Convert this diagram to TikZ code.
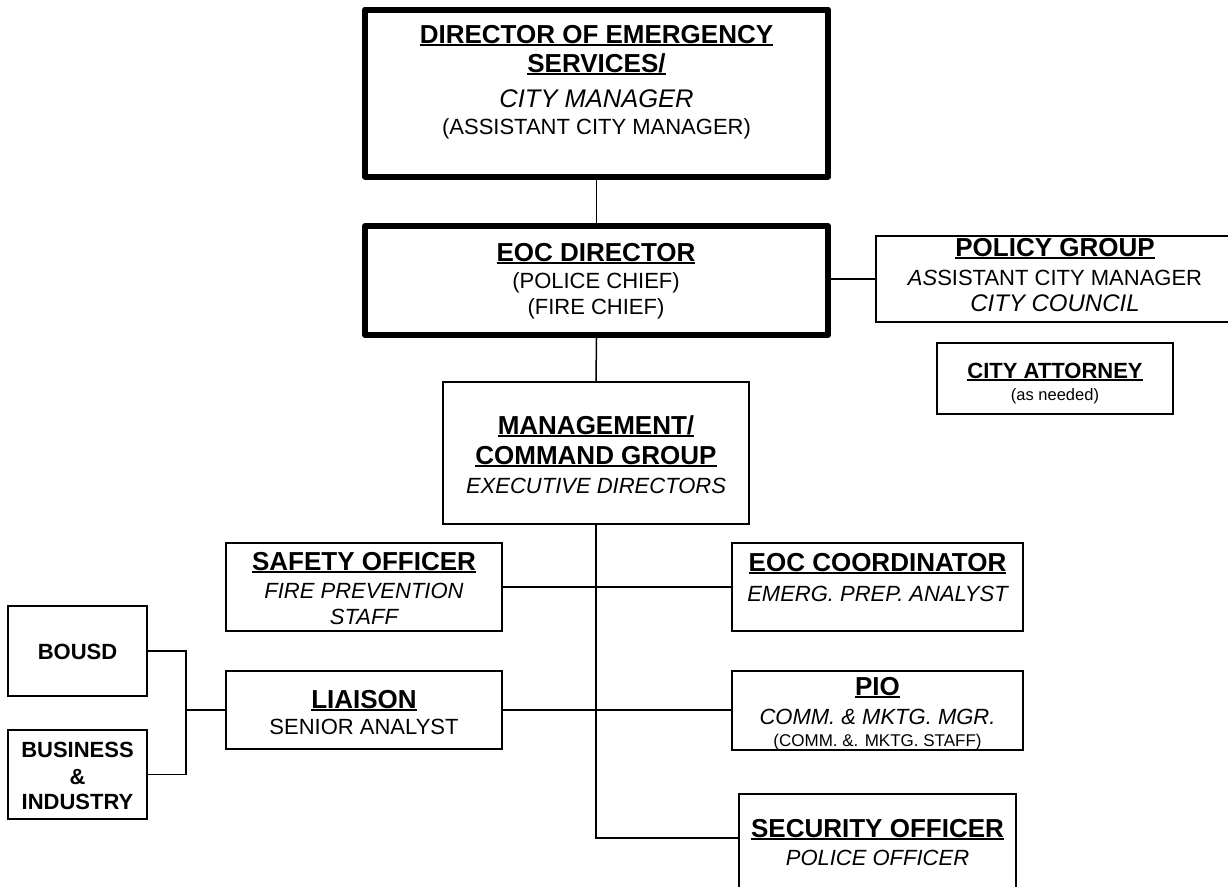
\documentclass[tikz,border=0pt]{standalone}
\usepackage{fontspec}
\setmainfont{Liberation Sans}
\newcommand\hul[1]{\setbox0=\hbox{#1}\rlap{\rule[-2.6pt]{\wd0}{2pt}}\box0}
\tikzset{
  thickbox/.style={draw, line width=6pt, line join=round, inner sep=0pt},
  thinbox/.style={draw, line width=1.8pt, inner sep=0pt},
  conn/.style={line width=1.5pt},
  hd/.style={anchor=base, inner sep=0pt, font=\fontsize{26}{30}\selectfont\bfseries},
  hds/.style={anchor=base, inner sep=0pt, font=\fontsize{22}{26}\selectfont\bfseries},
  it/.style={anchor=base, inner sep=0pt, font=\fontsize{22}{26}\selectfont\itshape},
  itb/.style={anchor=base, inner sep=0pt, font=\fontsize{25.5}{30}\selectfont\itshape},
  rg/.style={anchor=base, inner sep=0pt, font=\fontsize{22}{26}\selectfont},
  sm/.style={anchor=base, inner sep=0pt, font=\fontsize{17}{20}\selectfont},
}
\begin{document}
\begin{tikzpicture}[x=1pt, y=-1pt]
\useasboundingbox (0,0) rectangle (1228,886);
\clip (0,0) rectangle (1228,886);
% boxes
\node[thickbox, minimum width=463pt, minimum height=167pt] (top) at (596.5,93) {};
\node[thickbox, minimum width=463pt, minimum height=109pt] (eocdir) at (596.5,280.5) {};
\node[thinbox, minimum width=358pt, minimum height=86pt] (policy) at (1055,279) {};
\node[thinbox, minimum width=236pt, minimum height=71pt] (attorney) at (1055,378.5) {};
\node[thinbox, minimum width=306pt, minimum height=142pt] (mgmt) at (596,453) {};
\node[thinbox, minimum width=276pt, minimum height=88pt] (safety) at (364,587) {};
\node[thinbox, minimum width=276pt, minimum height=78pt] (liaison) at (364,710) {};
\node[thinbox, minimum width=291pt, minimum height=88pt] (coord) at (877.5,587) {};
\node[thinbox, minimum width=291pt, minimum height=79pt] (pio) at (877.5,710.5) {};
\node[thinbox, minimum width=277pt, minimum height=116pt] (security) at (877.5,852) {};
\node[thinbox, minimum width=139pt, minimum height=90pt] (bousd) at (77.5,651) {};
\node[thinbox, minimum width=139pt, minimum height=89pt] (business) at (77.5,774.5) {};
% texts
\node[hd] (t1) at (596.5,43.5) {\hul{DIRECTOR OF EMERGENCY}};
\node[hd] (t2) at (596.5,72.5) {\hul{SERVICES/}};
\node[itb] (t3) at (596.5,107.5) {CITY MANAGER};
\node[rg] (t4) at (596.5,134) {(ASSISTANT CITY MANAGER)};
\node[hd] (e1) at (596,261) {\hul{EOC DIRECTOR}};
\node[rg] (e2) at (596,288.5) {(POLICE CHIEF)};
\node[rg] (e3) at (596,314) {(FIRE CHIEF)};
\node[hd] (p1) at (1055,256.5) {\hul{POLICY GROUP}};
\node[rg] (p2) at (1055,285) {{\itshape AS}SISTANT CITY MANAGER};
\node[it, font=\fontsize{24}{28}\selectfont\itshape] (p3) at (1055,311.5) {CITY COUNCIL};
\node[hds] (a1) at (1055,378) {\hul{CITY ATTORNEY}};
\node[anchor=base, inner sep=0pt, font=\fontsize{16.5}{20}\selectfont] (a2) at (1055,400) {(as needed)};
\node[hd] (m1) at (596,434.5) {\hul{MANAGEMENT/}};
\node[hd] (m2) at (596,464.5) {\hul{COMMAND GROUP}};
\node[it] (m3) at (596,493) {EXECUTIVE DIRECTORS};
\node[hd] (s1) at (364,570.5) {\hul{SAFETY OFFICER}};
\node[it] (s2) at (364,598.5) {FIRE PREVENTION};
\node[it] (s3) at (364,624.5) {STAFF};
\node[hd] (l1) at (364,708) {\hul{LIAISON}};
\node[rg] (l2) at (364,734.5) {SENIOR ANALYST};
\node[hds] (b1) at (77.5,659) {BOUSD};
\node[hds] (b2) at (77.5,757) {BUSINESS};
\node[hds] (b3) at (77.5,784) {\&};
\node[hds] (b4) at (77.5,809.5) {INDUSTRY};
\node[hd] (c1) at (877.5,571.5) {\hul{EOC COORDINATOR}};
\node[it] (c2) at (877.5,601) {EMERG. PREP. ANALYST};
\node[hd] (i1) at (877.5,695.5) {\hul{PIO}};
\node[it] (i2) at (877.5,724) {COMM. \& MKTG. MGR.};
\node[sm] (i3) at (877.5,746.5) {(COMM. \&. MKTG. STAFF)};
\node[hd] (r1) at (877.5,837) {\hul{SECURITY OFFICER}};
\node[it] (r2) at (877.5,865) {POLICE OFFICER};
% connectors
\coordinate (secin) at (739,838);
\coordinate (bx) at (186,710);
\draw[conn] (top.south) -- (eocdir.north);
\draw[conn] (policy.west) -- (policy.west -| eocdir.east);
\draw[conn] (eocdir.south) -- (mgmt.north);
\draw[conn] (mgmt.south) |- (secin);
\draw[conn] (safety.east) -- (coord.west);
\draw[conn] (liaison.east) -- (liaison.east -| pio.west);
\draw[conn] (bousd.east) -| (bx);
\draw[conn] (business.east) -| (bx);
\draw[conn] (bx) -- (liaison.west);
\end{tikzpicture}
\end{document}
